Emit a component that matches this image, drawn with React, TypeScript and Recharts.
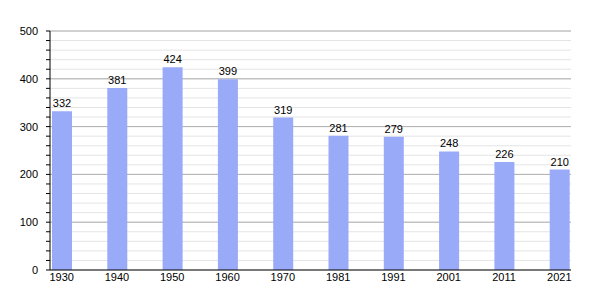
import React from 'react'
import { BarChart, Bar, XAxis, YAxis, CartesianGrid, LabelList } from 'recharts'

const years = ['1930', '1940', '1950', '1960', '1970', '1981', '1991', '2001', '2011', '2021']
const population = [332, 381, 424, 399, 319, 281, 279, 248, 226, 210]
const yTicks = [0, 20, 40, 60, 80, 100, 120, 140, 160, 180, 200, 220, 240, 260, 280, 300, 320, 340, 360, 380, 400, 420, 440, 460, 480, 500]
const majorTicks = [100, 200, 300, 400, 500]

const data = years.map((year, i) => ({ year, value: population[i] }))

const font = { fontFamily: 'Liberation Sans, Arial, sans-serif', fontSize: 11, fill: '#000' }

export default function App() {
    return (
        <div style={{ position: 'absolute', left: 0, top: 0, width: 600, height: 300, background: '#fff' }}>
            <BarChart width={600} height={300} data={data} margin={{ top: 31, right: 29, left: 0, bottom: 0 }}>
                <CartesianGrid vertical={false} stroke="#e4e4e4" horizontalValues={yTicks} />
                <CartesianGrid vertical={false} stroke="#b0b0b0" horizontalValues={majorTicks} />
                <XAxis
                    dataKey="year"
                    height={30}
                    tickLine={false}
                    tickSize={0}
                    tickMargin={3}
                    axisLine={{ stroke: '#000' }}
                    padding={{ left: -16, right: -16 }}
                    tick={font}
                    interval={0}
                />
                <YAxis
                    width={50}
                    domain={[0, 500]}
                    ticks={yTicks}
                    interval={0}
                    tickSize={4}
                    tickMargin={8}
                    tickLine={{ stroke: '#000' }}
                    axisLine={{ stroke: '#000' }}
                    tickFormatter={(v: number) => (v % 100 === 0 ? String(v) : '')}
                    tick={font}
                />
                <Bar dataKey="value" fill="#99aaf8" barSize={20} isAnimationActive={false}>
                    <LabelList dataKey="value" position="top" offset={4} style={font} />
                </Bar>
            </BarChart>
        </div>
    )
}
